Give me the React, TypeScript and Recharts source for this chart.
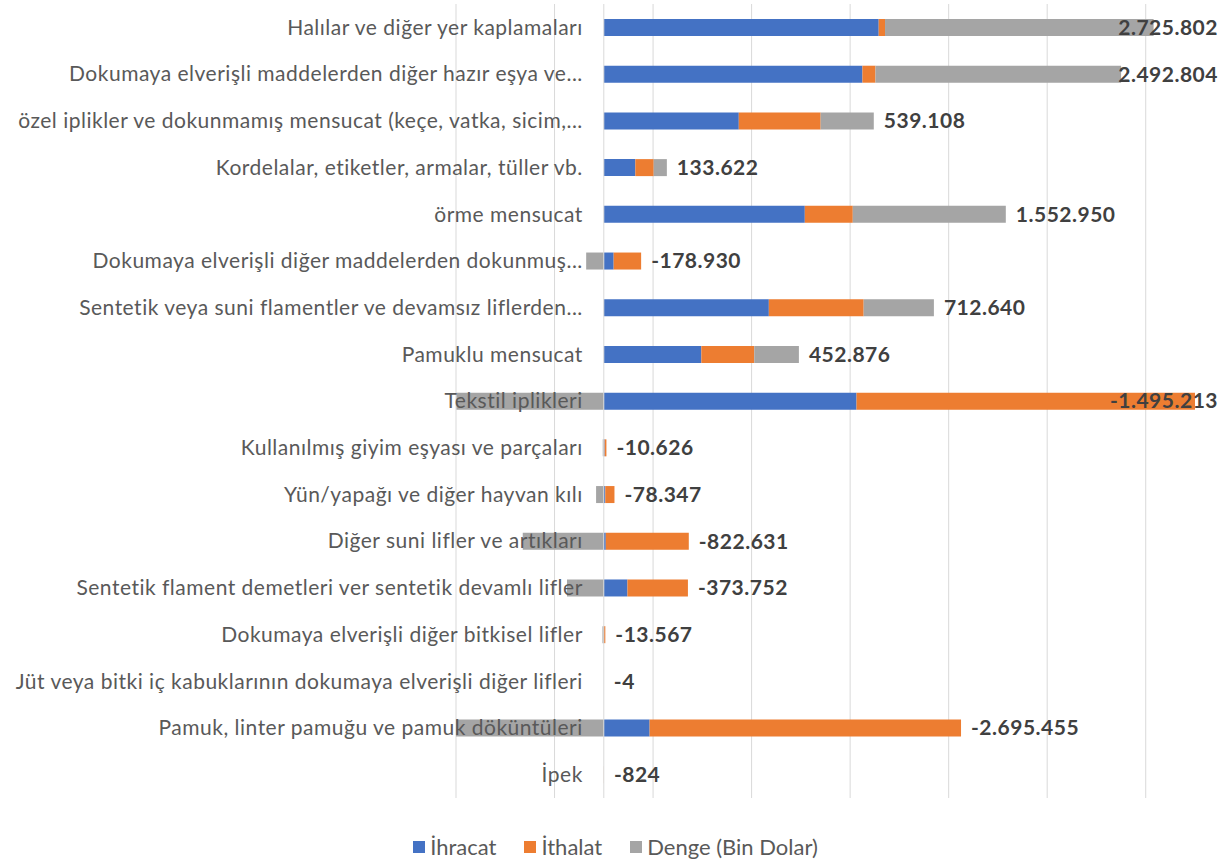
import React from "react";
import {
  BarChart,
  Bar,
  XAxis,
  YAxis,
  CartesianGrid,
  Legend,
  LabelList,
  ReferenceLine,
} from "recharts";

// ── data (bin dolar) ──────────────────────────────────────────────────────────

const categories = [
  "Halılar ve diğer yer kaplamaları",
  "Dokumaya elverişli maddelerden diğer hazır eşya ve...",
  "özel iplikler ve dokunmamış mensucat (keçe, vatka, sicim,...",
  "Kordelalar, etiketler, armalar, tüller vb.",
  "örme mensucat",
  "Dokumaya elverişli diğer maddelerden dokunmuş...",
  "Sentetik veya suni flamentler ve devamsız liflerden...",
  "Pamuklu mensucat",
  "Tekstil iplikleri",
  "Kullanılmış giyim eşyası ve parçaları",
  "Yün/yapağı ve diğer hayvan kılı",
  "Diğer suni lifler ve artıkları",
  "Sentetik flament demetleri ver sentetik devamlı lifler",
  "Dokumaya elverişli diğer bitkisel lifler",
  "Jüt veya bitki iç kabuklarının dokumaya elverişli diğer lifleri",
  "Pamuk, linter pamuğu ve pamuk döküntüleri",
  "İpek",
];

const ihracat = [
  2790000, 2625000, 1370000, 320000, 2040000, 100000, 1675000, 990000,
  2565000, 8000, 15000, 20000, 240000, 1000, 0, 465000, 0,
];

const ithalat = [
  64200, 132200, 830900, 186400, 487000, 278900, 962400, 537100,
  4060200, 18600, 93300, 842600, 613800, 14600, 4, 3160500, 824,
];

const denge = [
  2725802, 2492804, 539108, 133622, 1552950, -178930, 712640, 452876,
  -1495213, -10626, -78347, -822631, -373752, -13567, -4, -2695455, -824,
];

const xTicks = [-1500000, -500000, 500000, 1500000, 2500000, 3500000, 4500000, 5500000];
const X_MIN = -1500000;
const X_MAX = 6000000;

const seriesOrder = ["İhracat", "İthalat", "Denge (Bin Dolar)"];

const chartData = categories.map((name, i) => ({
  name,
  ihracat: ihracat[i],
  ithalat: ithalat[i],
  denge: denge[i],
}));

// ── layout ────────────────────────────────────────────────────────────────────

const W = 1231;
const H = 864;
const Y_AXIS_W = 150;
const MARGIN = { top: 4, right: 36, bottom: 66, left: 456 - Y_AXIS_W };
const PLOT_LEFT = MARGIN.left + Y_AXIS_W;
const PLOT_W = W - PLOT_LEFT - MARGIN.right;
const ZERO_X = PLOT_LEFT + (PLOT_W * (0 - X_MIN)) / (X_MAX - X_MIN);
const LABEL_RIGHT = 1218;

const BLUE = "#4472C4";
const ORANGE = "#ED7D31";
const GREY = "#A5A5A5";
const TEXT = "#595959";
const FONT = "Lato, 'Open Sans', sans-serif";

const fmt = (v: number) => {
  const s = Math.abs(v).toString().replace(/\B(?=(\d{3})+(?!\d))/g, ".");
  return v < 0 ? "-" + s : s;
};

const estWidth = (s: string) =>
  s.split("").reduce((w, c) => w + (c === "." ? 5.5 : c === "-" ? 8 : 12.5), 0);

// gridlines at the x ticks, mapped with the plot offset
const gridX = ({ offset }: any) => {
  const left = offset?.left ?? PLOT_LEFT;
  const width = offset?.width ?? PLOT_W;
  return xTicks.map((t) => left + (width * (t - X_MIN)) / (X_MAX - X_MIN));
};

function renderCategoryTick(props: any) {
  const { y, payload } = props;
  return (
    <text
      x={ZERO_X - 21}
      y={y}
      dy="0.35em"
      textAnchor="end"
      fill={TEXT}
      fontSize={21}
      letterSpacing={0.5}
      fontFamily={FONT}
    >
      {payload.value}
    </text>
  );
}

// label goes after the right end of the positive stack
function makeValueLabel(when: (v: number) => boolean) {
  return function ValueLabel(props: any) {
    const { x, y, width, height, value } = props;
    if (value == null || !when(Number(value))) return null;
    const txt = fmt(Number(value));
    let lx = Number(x) + Number(width) + 10;
    let anchor: "start" | "end" = "start";
    if (lx + estWidth(txt) > LABEL_RIGHT) {
      lx = LABEL_RIGHT;
      anchor = "end";
    }
    return (
      <text
        x={lx}
        y={Number(y) + Number(height) / 2}
        dy="0.35em"
        textAnchor={anchor}
        fill="#404040"
        fontSize={21}
        fontWeight={700}
        letterSpacing={0.5}
        fontFamily={FONT}
      >
        {txt}
      </text>
    );
  };
}

function LegendContent(props: any) {
  const payload = [...(props.payload || [])].sort(
    (a: any, b: any) => seriesOrder.indexOf(a.value) - seriesOrder.indexOf(b.value)
  );
  return (
    <div
      style={{
        display: "flex",
        justifyContent: "center",
        gap: 28,
        fontFamily: FONT,
        fontSize: 22,
        color: TEXT,
      }}
    >
      {payload.map((p: any) => (
        <span key={p.value} style={{ display: "inline-flex", alignItems: "center" }}>
          <span
            style={{
              display: "inline-block",
              width: 12,
              height: 12,
              background: p.color,
              marginRight: 5,
            }}
          />
          {p.value}
        </span>
      ))}
    </div>
  );
}

export default function App() {
  return (
    <div style={{ position: "absolute", left: 0, top: 0, background: "#fff" }}>
      <BarChart
        width={W}
        height={H}
        data={chartData}
        layout="vertical"
        stackOffset="sign"
        barSize={17}
        margin={MARGIN}
      >
        <CartesianGrid
          horizontal={false}
          stroke="#D9D9D9"
          verticalCoordinatesGenerator={gridX}
        />
        <XAxis
          type="number"
          domain={[X_MIN, X_MAX]}
          ticks={xTicks}
          allowDataOverflow
          hide
        />
        <ReferenceLine x={0} stroke="#D9D9D9" />
        <Bar dataKey="ihracat" name="İhracat" stackId="a" fill={BLUE} isAnimationActive={false} />
        <Bar dataKey="ithalat" name="İthalat" stackId="a" fill={ORANGE} isAnimationActive={false}>
          <LabelList dataKey="denge" content={makeValueLabel((v) => v < 0)} />
        </Bar>
        <Bar dataKey="denge" name="Denge (Bin Dolar)" stackId="a" fill={GREY} isAnimationActive={false}>
          <LabelList dataKey="denge" content={makeValueLabel((v) => v > 0)} />
        </Bar>
        <YAxis
          type="category"
          dataKey="name"
          width={Y_AXIS_W}
          axisLine={false}
          tickLine={false}
          interval={0}
          tick={renderCategoryTick}
        />
        <Legend
          verticalAlign="middle"
          align="center"
          layout="horizontal"
          itemSorter={null}
          content={<LegendContent />}
          wrapperStyle={{ top: 833, left: 0, width: W }}
        />
      </BarChart>
    </div>
  );
}
